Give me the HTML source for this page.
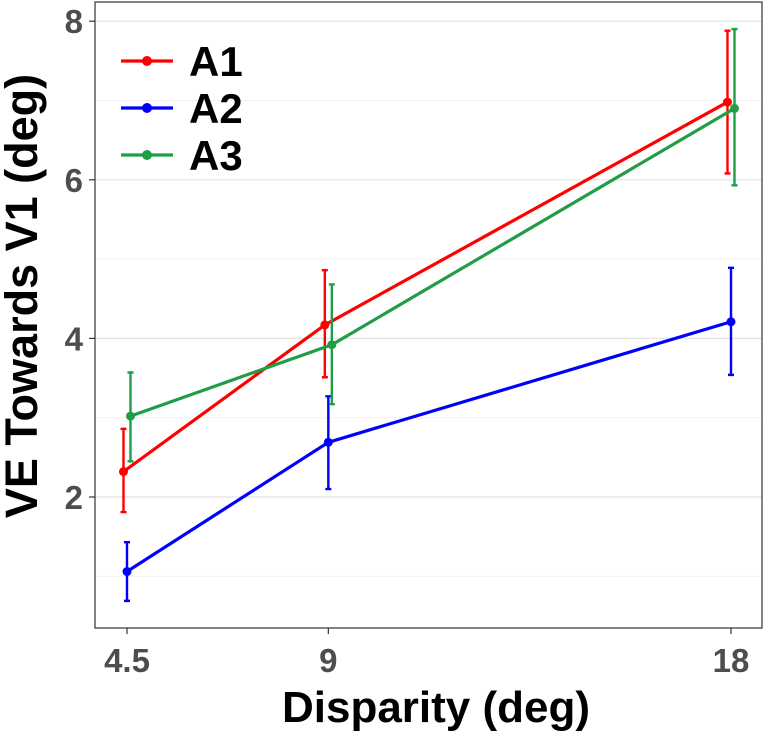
<!DOCTYPE html>
<html><head><meta charset="utf-8"><style>
body{margin:0;background:#fff;}
svg text{font-family:"Liberation Sans",sans-serif;font-weight:bold;}
</style></head><body>
<svg id="chart" width="764" height="731">
<g id="grid"></g>
<rect x="95" y="2" width="667" height="626" fill="none" stroke="#333" stroke-width="1.2"/>
<g id="axes"></g>
<g id="series"></g>
<text x="37" y="296" font-size="45" text-anchor="middle" transform="rotate(-90 37 296)" fill="#000">VE Towards V1 (deg)</text>
<text x="436" y="722" font-size="44" text-anchor="middle" fill="#000">Disparity (deg)</text>
<g id="legend"></g>
</svg>
<script>
const xValues=[4.5,9,18];
const xTickLabels=["4.5","9","18"];
const yTicks=[2,4,6,8];
const yMinor=[1,3,5,7];
const seriesNames=["A1","A2","A3"];
const a1Mean=[2.32,4.17,6.98], a1Lo=[1.81,3.51,6.08], a1Hi=[2.86,4.86,7.88];
const a2Mean=[1.06,2.69,4.21], a2Lo=[0.69,2.10,3.54], a2Hi=[1.43,3.27,4.89];
const a3Mean=[3.02,3.92,6.90], a3Lo=[2.45,3.17,5.93], a3Hi=[3.57,4.68,7.90];
const colors=["#ff0000","#0000ff","#1f9e45"];
const dodge=[-3.5,0,3.5];
const ns="http://www.w3.org/2000/svg";
const x=v=>127+(v-4.5)*44.74;
const y=v=>497-(v-2)*79.3;
function mk(t,a,p){const e=document.createElementNS(ns,t);for(const k in a)e.setAttribute(k,a[k]);p.appendChild(e);return e;}
const grid=document.getElementById('grid'),axes=document.getElementById('axes'),ser=document.getElementById('series'),leg=document.getElementById('legend');
yMinor.forEach(v=>{const l=mk('line',{x1:95,x2:762,y1:y(v),y2:y(v),stroke:'#f2f2f2','stroke-width':1},grid);

});
yTicks.forEach(v=>{const l=mk('line',{x1:95,x2:762,y1:y(v),y2:y(v),stroke:'#e3e3e3','stroke-width':1.2},grid);


const t=mk('line',{x1:89,x2:95,y1:y(v),y2:y(v),stroke:'#333','stroke-width':1.2},axes);


const tx=mk('text',{x:83,y:y(v)+12,'font-size':33,'text-anchor':'end',fill:'#4d4d4d'},axes);tx.textContent=v;

});
xValues.forEach((v,i)=>{const t=mk('line',{x1:x(v),x2:x(v),y1:628,y2:634,stroke:'#333','stroke-width':1.2},axes);


const tx=mk('text',{x:x(v),y:672,'font-size':33,'text-anchor':'middle',fill:'#4d4d4d'},axes);tx.textContent=xTickLabels[i];

});
const data=[[a1Mean,a1Lo,a1Hi],[a2Mean,a2Lo,a2Hi],[a3Mean,a3Lo,a3Hi]];
data.forEach((d,s)=>{const g=mk('g',{},ser);


const c=colors[s],dx=dodge[s];
const pl=mk('polyline',{points:xValues.map((v,i)=>(x(v)+dx)+','+y(d[0][i])).join(' '),fill:'none',stroke:c,'stroke-width':3.2},g);


xValues.forEach((v,i)=>{const xx=x(v)+dx;
const eb=mk('path',{d:`M${xx-3},${y(d[1][i])}H${xx+3}M${xx},${y(d[1][i])}V${y(d[2][i])}M${xx-3},${y(d[2][i])}H${xx+3}`,stroke:c,'stroke-width':2.4,fill:'none'},g);


const p=mk('circle',{cx:xx,cy:y(d[0][i]),r:4.5,fill:c},g);

});});
seriesNames.forEach((n,i)=>{const yy=61+i*47;
const g=mk('g',{},leg);


mk('line',{x1:121,x2:173,y1:yy,y2:yy,stroke:colors[i],'stroke-width':3.2},g);
mk('circle',{cx:147,cy:yy,r:5,fill:colors[i]},g);
const t=mk('text',{x:189,y:yy+15,'font-size':42,fill:'#000'},g);t.textContent=n;});
</script>
</body></html>
